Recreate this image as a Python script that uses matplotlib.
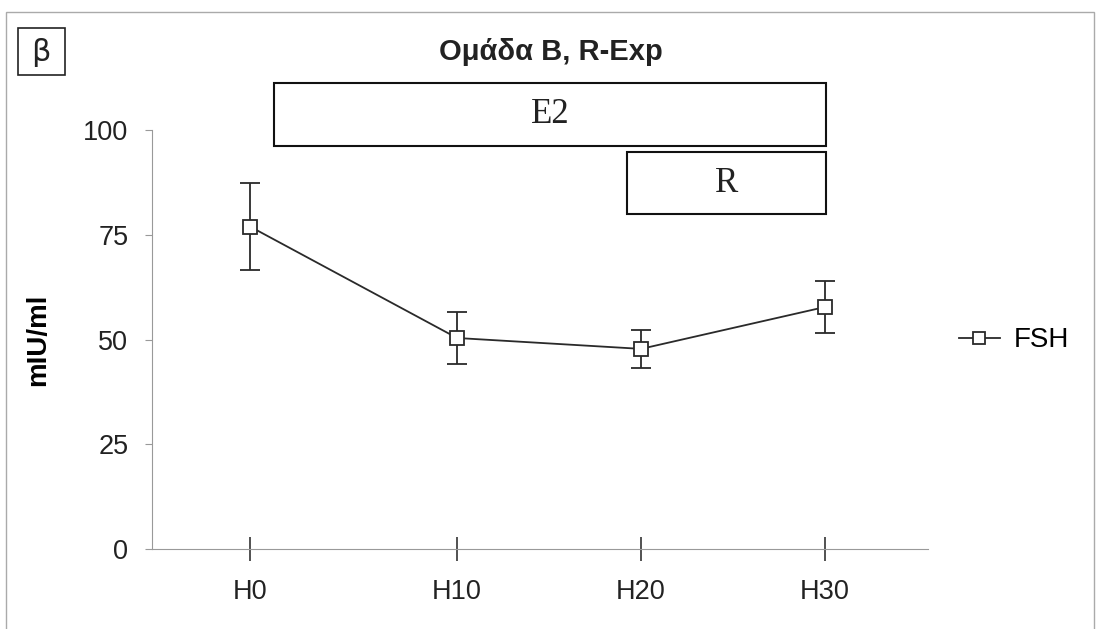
import matplotlib
matplotlib.use("Agg")
import matplotlib.pyplot as plt
from matplotlib.patches import Rectangle

# data
hour_labels = ["H0", "H10", "H20", "H30"]
hour_pos = [0, 11.25, 21.25, 31.25]   # positions as drawn (not evenly spaced in the original)
fsh_mean = [77.0, 50.4, 47.8, 57.8]
fsh_err = [10.4, 6.1, 4.6, 6.3]

plt.rcParams['font.family'] = ['Liberation Sans', 'DejaVu Sans']

fig = plt.figure(figsize=(11.01, 6.29), dpi=100)
ax = fig.add_axes([0.138, 0.127, 0.705, 0.666])

line_col = "#2a2a2a"
ax.errorbar(hour_pos, fsh_mean, yerr=fsh_err, fmt='none', ecolor=line_col,
            elinewidth=1.3, capsize=7, capthick=1.3)
ax.plot(hour_pos, fsh_mean, '-s', color=line_col, lw=1.3, ms=10,
        mfc='white', mec=line_col, mew=1.3, label="FSH", zorder=3)

ax.set_xlim(-5.33, 36.85)
ax.set_ylim(0, 100)
ax.set_yticks([0, 25, 50, 75, 100])
ax.set_xticks(hour_pos)
ax.set_xticklabels(hour_labels)

for s in ['top', 'right']:
    ax.spines[s].set_visible(False)
ax.spines['left'].set_color('#999999')
ax.spines['bottom'].set_color('#999999')
ax.tick_params(axis='y', direction='out', length=5, width=0.8, color='#999999',
               pad=12, labelsize=19.5, labelcolor='#222222')
ax.tick_params(axis='x', direction='inout', length=17, width=1.2, color='#333333',
               pad=13, labelsize=19.5, labelcolor='#222222')

ax.set_ylabel("mIU/ml", fontsize=20, fontweight='bold')
ax.yaxis.set_label_coords(-0.13, 0.5)

# treatment boxes above the curve
boxes = [("E2", 1.3, 31.3, 96.2, 111.2), ("R", 20.5, 31.3, 80.0, 94.7)]
for name, x0, x1, y0, y1 in boxes:
    ax.add_patch(Rectangle((x0, y0), x1 - x0, y1 - y0, fill=False, ec='#111111',
                           lw=1.5, clip_on=False))
    ax.text((x0 + x1) / 2, (y0 + y1) / 2, name, ha='center', va='center',
            fontsize=25, family='Liberation Serif', color='#222222', clip_on=False)

fig.text(0.5, 0.918, "Ομάδα Β, R-Exp", ha='center', va='center', fontsize=21,
         fontweight='bold', color='#222222')

# panel letter in a box
fig.patches.append(Rectangle((0.016, 0.881), 0.043, 0.074, transform=fig.transFigure,
                             fill=False, ec='#222222', lw=1.2))
fig.text(0.0375, 0.916, "β", ha='center', va='center', fontsize=22, color='#222222',
         family='DejaVu Sans')

# outer frame
fig.patches.append(Rectangle((0.0055, -0.1), 0.988, 1.081, transform=fig.transFigure,
                             fill=False, ec='#aaaaaa', lw=1.0))

fig.legend(loc='center left', bbox_to_anchor=(0.848, 0.459), frameon=False,
           fontsize=20, handlelength=1.5, handletextpad=0.5, markerscale=0.8)

fig.savefig("out.png", dpi=100)
